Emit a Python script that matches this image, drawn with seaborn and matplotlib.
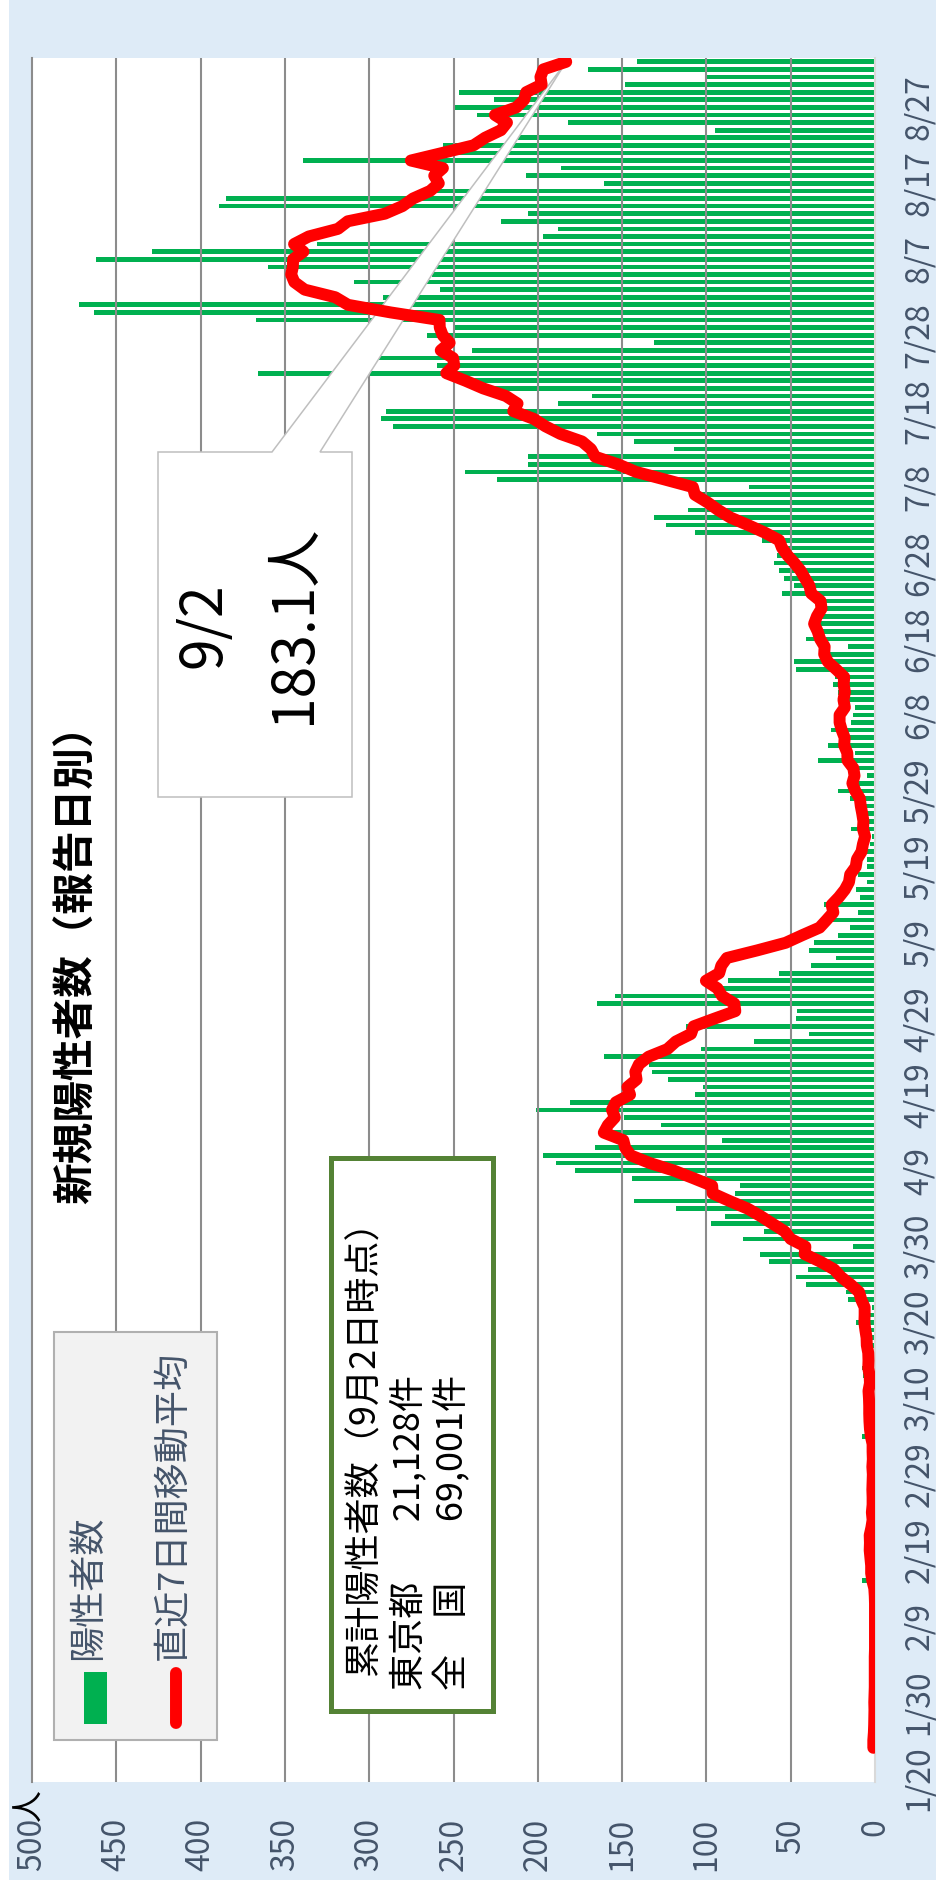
import numpy as np
import pandas as pd
import matplotlib
matplotlib.use("Agg")
import matplotlib.pyplot as plt
import seaborn as sns
from matplotlib.patches import Rectangle, Polygon
from matplotlib.lines import Line2D

# ---------------- data ----------------
start_date = "2020-01-20"      # first category on the date axis
end_date = "2020-09-02"        # last category on the date axis
first_case_date = "2020-01-24" # first day of the daily series below

cases_jan = [1, 1, 0, 0, 0, 0, 1, 0]  # 1/24 - 1/31
cases_feb = [0, 0, 0, 0, 0, 0, 0, 0, 0, 0, 0, 0, 1, 2, 8, 5, 0, 3, 3, 0,
             3, 1, 0, 3, 0, 3, 1, 2, 0]
cases_mar = [2, 1, 1, 3, 8, 6, 2, 3, 1, 2, 5, 2, 7, 8, 2, 2, 8, 6, 7, 11,
             7, 2, 16, 17, 41, 47, 40, 63, 68, 13, 78]
cases_apr = [66, 97, 89, 118, 143, 83, 80, 144, 178, 189, 197, 166, 91, 161, 127,
             149, 201, 181, 107, 102, 123, 132, 134, 161, 103, 72, 39, 112, 47, 46]
cases_may = [165, 154, 91, 87, 57, 38, 23, 39, 36, 22, 15, 28, 10, 30, 9, 11,
             5, 10, 5, 5, 11, 3, 2, 14, 8, 10, 11, 15, 22, 14, 5]
cases_jun = [13, 34, 12, 28, 20, 26, 14, 13, 12, 18, 22, 25, 24, 47, 48, 27,
             16, 41, 35, 39, 35, 29, 31, 55, 48, 54, 57, 60, 58, 54]
cases_jul = [67, 107, 124, 131, 111, 102, 106, 75, 224, 243, 206, 206, 119, 143,
             165, 286, 293, 290, 188, 168, 237, 238, 366, 260, 295, 239, 131,
             266, 250, 367, 463]
cases_aug = [472, 292, 258, 309, 263, 360, 462, 429, 331, 197, 188, 222, 206,
             389, 385, 260, 161, 207, 186, 339, 258, 256, 212, 95, 182, 236,
             250, 226, 247, 148, 100]
cases_sep = [170, 141]

value_ticks = [0, 50, 100, 150, 200, 250, 300, 350, 400, 450, 500]
date_tick_step = 10

title_text = "新規陽性者数（報告日別）"
legend_bar_label = "陽性者数"
legend_line_label = "直近7日間移動平均"
box_lines = ["累計陽性者数（9月2日時点）", "東京都　   21,128件", "全　国　   69,001件"]
unit_label = "人"

# ---------------- style ----------------
sns.set_theme(style="white")
plt.rcParams["font.family"] = ["Noto Sans CJK JP", "DejaVu Sans"]

W, H, DPI = 936, 1888, 100
BG = "#DEEBF7"
TICK_C = "#44546A"
GRID_C = "#8C8C8C"
GREEN = "#00B050"
RED = "#FF0000"

cases = (cases_jan + cases_feb + cases_mar + cases_apr + cases_may +
         cases_jun + cases_jul + cases_aug + cases_sep)
dates = pd.date_range(start_date, end_date, freq="D")
n = len(dates)
s = pd.Series(cases, index=pd.date_range(first_case_date, periods=len(cases), freq="D"), dtype=float)
daily = s.reindex(dates)
avg = s.rolling(7, min_periods=1).mean().reindex(dates)

df = pd.DataFrame({"date": dates.strftime("%Y-%m-%d"),
                   "cases": daily.fillna(0).values,
                   "avg": avg.values})
order = list(df["date"][::-1])          # newest at the top
pos = {d: i for i, d in enumerate(order)}
df["pos"] = df["date"].map(pos)


def fx(x):
    return x / W


def fy(y):
    return 1 - y / H


fig = plt.figure(figsize=(W / DPI, H / DPI), dpi=DPI, facecolor=BG)
fig.patches.append(Rectangle((0, 0), fx(9), 1, transform=fig.transFigure,
                             facecolor="white", edgecolor="none", zorder=0))
fig.patches.append(Rectangle((0, 0), 1, 8 / H, transform=fig.transFigure,
                             facecolor="white", edgecolor="none", zorder=0))

AX_L, AX_R, AX_T, AX_B = 32, 875, 58, 1782
ax = fig.add_axes([fx(AX_L), fy(AX_B), (AX_R - AX_L) / W, (AX_B - AX_T) / H])
ax.set_facecolor("white")

sns.barplot(data=df, x="cases", y="date", order=order, orient="h",
            color=GREEN, saturation=1, width=0.62, errorbar=None,
            linewidth=0, ax=ax, zorder=1)

line_df = df.dropna(subset=["avg"])
sns.lineplot(x=line_df["avg"].values, y=line_df["pos"].values, orient="y",
             sort=False, estimator=None, color=RED, linewidth=8.6, ax=ax,
             zorder=5, solid_capstyle="round", solid_joinstyle="round",
             legend=False)

ax.set_xlim(value_ticks[-1], value_ticks[0])
ax.set_ylim(n - 0.5, -0.5)
ax.set_xlabel("")
ax.set_ylabel("")

for v in value_ticks[1:-1]:
    ax.axvline(v, color=GRID_C, lw=1.5, zorder=2)

for side in ["top", "bottom"]:
    ax.spines[side].set_visible(False)
ax.spines["left"].set_color(GRID_C)
ax.spines["left"].set_linewidth(1.5)
ax.spines["right"].set_color("#D9D9D9")
ax.spines["right"].set_linewidth(1.5)

ax.set_xticks(value_ticks)
ax.set_xticklabels([str(v) for v in value_ticks], rotation=90)
ax.tick_params(axis="x", length=0, pad=26, labelsize=23, labelcolor=TICK_C)

ax.yaxis.tick_right()
tick_idx = list(range(0, n, date_tick_step))
ax.set_yticks([pos[df["date"][i]] for i in tick_idx])
ax.set_yticklabels([f"{dates[i].month}/{dates[i].day}" for i in tick_idx],
                   rotation=90, va="center", ha="left")
ax.tick_params(axis="y", length=0, pad=20, labelsize=23, labelcolor=TICK_C)

# ---------------- callout for the last moving-average point ----------------
tip_disp = ax.transData.transform((df["avg"].iloc[-1], df["pos"].iloc[-1]))
tip_fig = fig.transFigure.inverted().transform(tip_disp)
BX0, BX1, BY0, BY1 = 158, 352, 452, 797
callout_pts = [(fx(272), fy(BY0)), (fx(BX0), fy(BY0)), (fx(BX0), fy(BY1)),
               (fx(BX1), fy(BY1)), (fx(BX1), fy(BY0)), (fx(320), fy(BY0)),
               tuple(tip_fig)]
callout = Polygon(callout_pts, closed=True, transform=fig.transFigure,
                  facecolor="white", edgecolor="#BFBFBF", lw=1.1, zorder=3,
                  joinstyle="miter")
ax.add_patch(callout)
ax.set_xlim(value_ticks[-1], value_ticks[0])
ax.set_ylim(n - 0.5, -0.5)

last = dates[-1]
fig.text(fx(204), fy(625), f"{last.month}/{last.day}", rotation=90,
         ha="center", va="center", fontsize=41, color="black")
fig.text(fx(294), fy(624), f"{df['avg'].iloc[-1]:.1f}人", rotation=90,
         ha="center", va="center", fontsize=41, color="black")

# ---------------- title ----------------
fig.text(fx(77), fy(954), title_text, rotation=90, ha="center", va="center",
         fontsize=30, fontweight="bold", color="black")

# unit label
fig.text(fx(30), fy(1805), unit_label, rotation=90, ha="center", va="center",
         fontsize=23, color="black")

# ---------------- legend ----------------
fig.patches.append(Rectangle((fx(54), fy(1740)), (217 - 54) / W, (1740 - 1332) / H,
                             transform=fig.transFigure, facecolor="#F2F2F2",
                             edgecolor="#B0B0B0", lw=1.5, zorder=2))
fig.patches.append(Rectangle((fx(84), fy(1724)), 23 / W, 52 / H,
                             transform=fig.transFigure, facecolor=GREEN,
                             edgecolor="none", zorder=3))
fig.lines.append(Line2D([fx(176), fx(176)], [fy(1673), fy(1723)],
                        transform=fig.transFigure, color=RED, lw=8.6,
                        solid_capstyle="round", zorder=3))
fig.text(fx(88), fy(1660), legend_bar_label, rotation=90, ha="center",
         va="bottom", fontsize=26, color=TICK_C, zorder=4)
fig.text(fx(172), fy(1660), legend_line_label, rotation=90, ha="center",
         va="bottom", fontsize=26, color=TICK_C, zorder=4)

# ---------------- cumulative text box ----------------
fig.patches.append(Rectangle((fx(330.5), fy(1710.5)), (492.5 - 330.5) / W,
                             (1710.5 - 1157.5) / H, transform=fig.transFigure,
                             facecolor="white", edgecolor="#548235", lw=3.6,
                             zorder=2))
for xc, yb, txt in zip([365, 409, 453], [1676, 1690, 1690], box_lines):
    fig.text(fx(xc), fy(yb), txt, rotation=90, ha="center", va="bottom",
             fontsize=26, color="black", zorder=4)

fig.savefig("out.png", dpi=DPI, facecolor=BG)
